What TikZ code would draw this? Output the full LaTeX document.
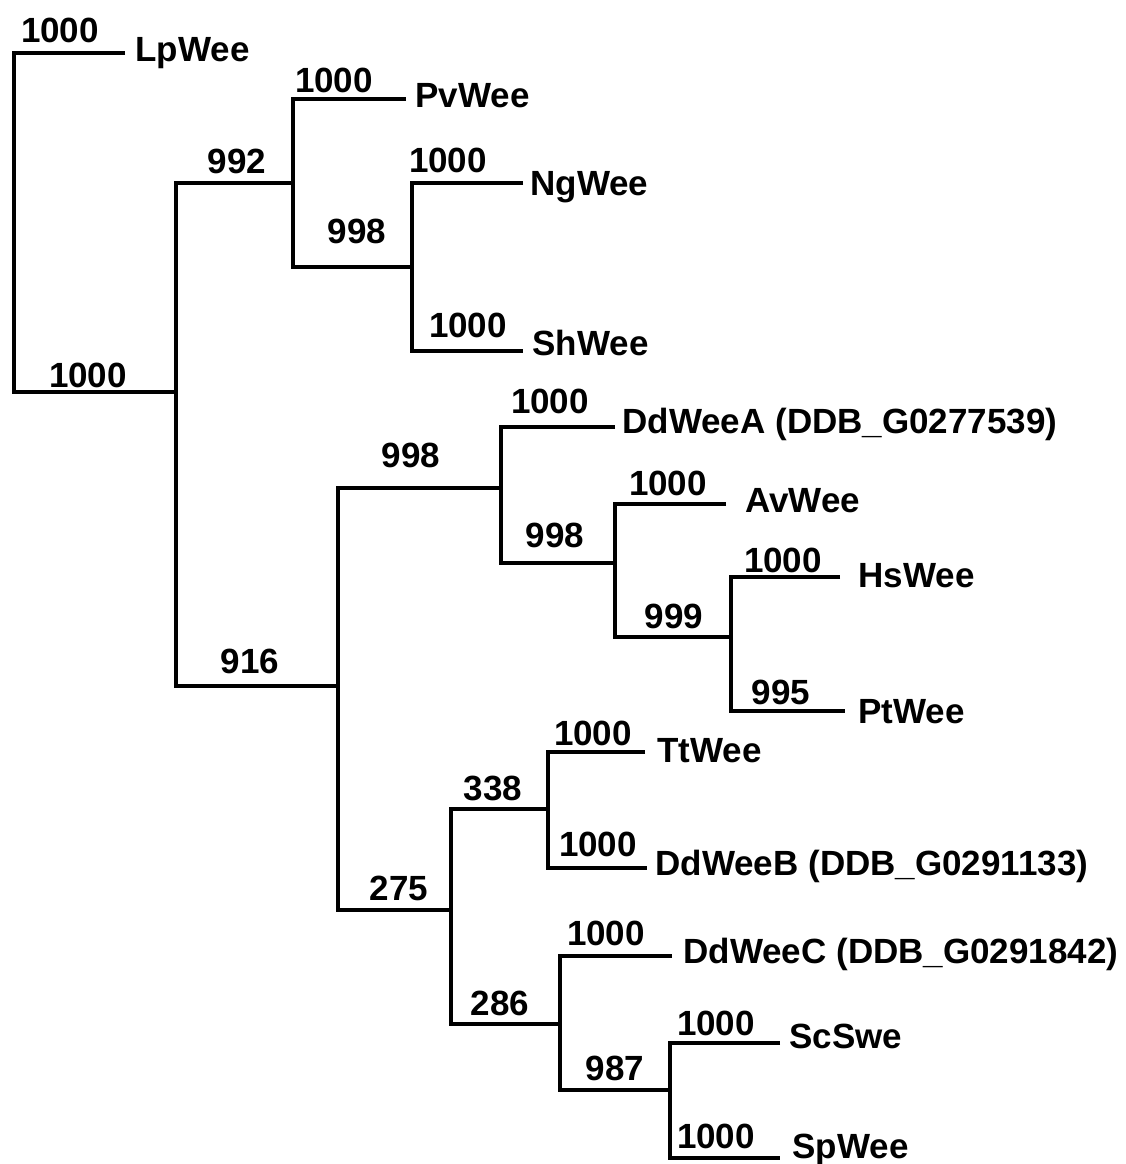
\documentclass[tikz,border=0pt]{standalone}
\usepackage{fontspec}
\setmainfont{Liberation Sans}
\begin{document}
\begin{tikzpicture}[x=0.5pt,y=-0.5pt,
  br/.style={line width=1.6pt, line join=miter, line cap=butt},
  bs/.style={font=\fontsize{17.5}{20}\selectfont\bfseries, inner sep=0pt, anchor=base},
  leaf/.style={font=\fontsize{17.5}{20}\selectfont\bfseries, inner sep=0pt, anchor=base west}]
\useasboundingbox (0,0) rectangle (1126,1164);
% internal nodes (attachment points)
\coordinate (R) at (14,222);
\coordinate (A) at (176,392);
\coordinate (B) at (293,183);
\coordinate (C) at (412,267);
\coordinate (D) at (338,686);
\coordinate (E) at (501,488);
\coordinate (F) at (615,563);
\coordinate (G) at (731,637);
\coordinate (H) at (451,910);
\coordinate (I) at (548,809);
\coordinate (J) at (560,1024);
\coordinate (K) at (670,1090);
% leaf ends
\coordinate (Lp) at (125,53);
\coordinate (Pv) at (406,99);
\coordinate (Ng) at (523,183);
\coordinate (Sh) at (523,351);
\coordinate (DA) at (615,427);
\coordinate (Av) at (726,504);
\coordinate (Hs) at (840,577);
\coordinate (Pt) at (845,711);
\coordinate (Tt) at (645,752);
\coordinate (DB) at (647,868);
\coordinate (DC) at (672,956);
\coordinate (Sc) at (780,1043);
\coordinate (Sp) at (780,1158);
% branches
\draw[br] (Lp) -| (R) |- (A);
\draw[br] (B) -| (A) |- (D);
\draw[br] (Pv) -| (B) |- (C);
\draw[br] (Ng) -| (C) |- (Sh);
\draw[br] (E) -| (D) |- (H);
\draw[br] (DA) -| (E) |- (F);
\draw[br] (Av) -| (F) |- (G);
\draw[br] (Hs) -| (G) |- (Pt);
\draw[br] (I) -| (H) |- (J);
\draw[br] (Tt) -| (I) |- (DB);
\draw[br] (DC) -| (J) |- (K);
\draw[br] (Sc) -| (K) |- (Sp);
% leaf labels
\node[leaf] (tLp) at (135,61) {LpWee};
\node[leaf] (tPv) at (415,107) {PvWee};
\node[leaf] (tNg) at (530,195) {NgWee};
\node[leaf] (tSh) at (532,355) {ShWee};
\node[leaf] (tDA) at (622,433) {DdWeeA (DDB\_G0277539)};
\node[leaf] (tAv) at (745,512) {AvWee};
\node[leaf] (tHs) at (858,587) {HsWee};
\node[leaf] (tPt) at (858,723) {PtWee};
\node[leaf] (tTt) at (657,762) {TtWee};
\node[leaf] (tDB) at (655,875) {DdWeeB (DDB\_G0291133)};
\node[leaf] (tDC) at (683,963) {DdWeeC (DDB\_G0291842)};
\node[leaf] (tSc) at (789,1048) {ScSwe};
\node[leaf] (tSp) at (792,1158) {SpWee};
% bootstrap values
\node[bs] (bLp) at (60,42) {1000};
\node[bs] (bA) at (88,387) {1000};
\node[bs] (bB) at (237,173) {992};
\node[bs] (bPv) at (334,92) {1000};
\node[bs] (bC) at (357,243) {998};
\node[bs] (bNg) at (448,172) {1000};
\node[bs] (bSh) at (468,337) {1000};
\node[bs] (bD) at (250,673) {916};
\node[bs] (bE) at (411,467) {998};
\node[bs] (bDA) at (550,413) {1000};
\node[bs] (bF) at (555,547) {998};
\node[bs] (bAv) at (668,495) {1000};
\node[bs] (bG) at (674,628) {999};
\node[bs] (bHs) at (783,572) {1000};
\node[bs] (bPt) at (781,704) {995};
\node[bs] (bH) at (399,900) {275};
\node[bs] (bI) at (493,800) {338};
\node[bs] (bTt) at (593,745) {1000};
\node[bs] (bDB) at (598,856) {1000};
\node[bs] (bJ) at (500,1015) {286};
\node[bs] (bDC) at (606,945) {1000};
\node[bs] (bK) at (615,1080) {987};
\node[bs] (bSc) at (716,1035) {1000};
\node[bs] (bSp) at (716,1148) {1000};
\end{tikzpicture}
\end{document}
